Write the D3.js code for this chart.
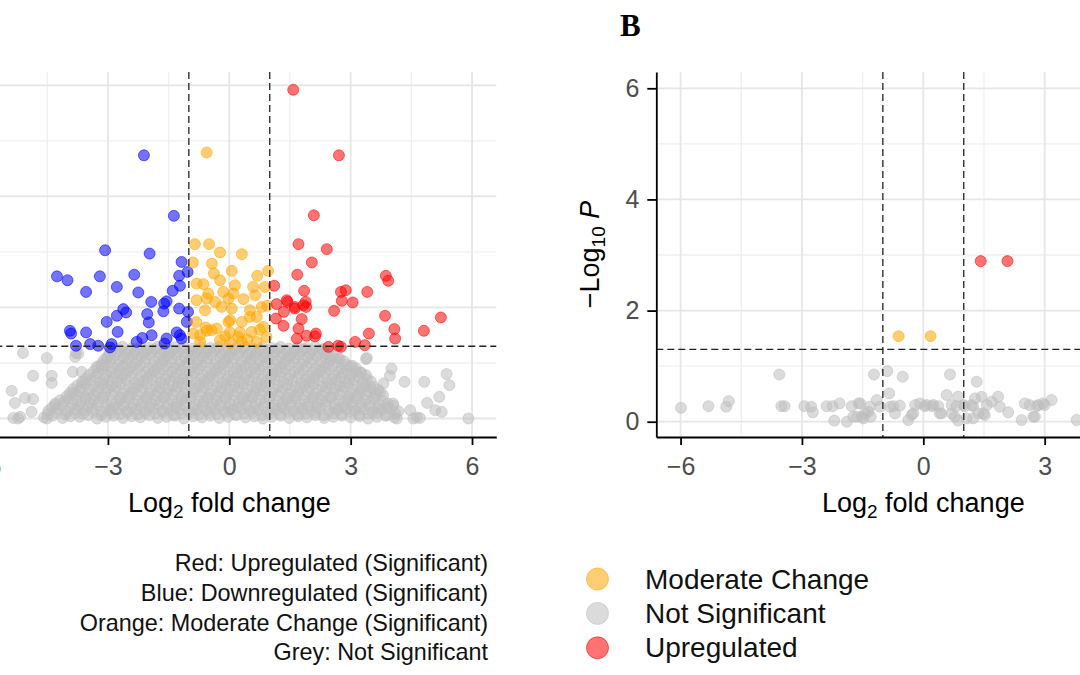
<!DOCTYPE html>
<html><head><meta charset="utf-8">
<script src="https://cdn.jsdelivr.net/npm/d3@7"></script>
<style>body{margin:0;background:#fff}svg{display:block}</style>
</head><body>
<svg id="c" width="1080" height="675"></svg>
<script>
// ---------- DATA (log2 fold change, -log10 P) ----------
const xTicks = [-6, -3, 0, 3, 6];
const xMinor = [-4.5, -1.5, 1.5, 4.5];
const yTicks = [0, 2, 4, 6];
const yMinor = [1, 3, 5];
const fcCut = [-1, 1];
const pCut = 1.301;

// Panel A (left)
const leftUp = [[1.58,5.92],[2.71,4.74],[2.09,3.66],[1.71,3.14],[2.41,3.05],[2.04,2.81],[1.68,2.59],[1.11,2.39],[1.85,2.30],[2.76,2.28],[2.88,2.31],[3.41,2.28],[3.87,2.57],[3.93,2.48],[1.17,2.06],[1.44,2.10],[1.62,2.01],[1.89,2.10],[1.90,2.01],[1.35,1.92],[2.78,2.12],[3.05,2.09],[2.59,1.94],[1.15,1.80],[1.79,1.79],[1.34,1.67],[1.71,1.62],[1.67,1.44],[1.91,1.49],[2.14,1.53],[3.85,1.85],[3.45,1.53],[4.08,1.61],[4.10,1.44],[4.81,1.58],[5.23,1.82],[3.11,1.38],[3.35,1.32],[2.45,1.29],[2.69,1.31],[2.76,1.29],[2.12,1.48],[1.42,2.13],[1.62,1.98],[1.83,2.04]];
const leftDown = [[-2.11,4.74],[-1.37,3.65],[-3.07,3.03],[-1.97,2.97],[-4.26,2.56],[-4.00,2.49],[-3.20,2.56],[-3.54,2.28],[-2.78,2.37],[-2.35,2.59],[-2.25,2.27],[-1.18,2.82],[-1.03,2.64],[-1.24,2.57],[-1.22,2.39],[-1.40,2.30],[-1.93,2.10],[-1.61,2.07],[-1.55,2.11],[-1.63,1.93],[-1.24,1.98],[-2.62,1.97],[-2.55,1.91],[-2.78,1.85],[-3.03,1.74],[-2.03,1.88],[-1.99,1.73],[-3.94,1.58],[-3.91,1.53],[-3.54,1.55],[-2.76,1.56],[-1.92,1.50],[-2.15,1.45],[-2.29,1.38],[-1.55,1.44],[-1.60,1.35],[-1.30,1.55],[-1.22,1.50],[-1.18,1.44],[-1.05,1.74],[-3.79,1.31],[-3.44,1.34],[-3.24,1.31],[-2.95,1.28],[-2.91,1.34],[-1.02,1.92]];
const leftModerate = [[-0.56,4.79],[-0.85,3.14],[-0.50,3.14],[-0.23,2.99],[0.31,2.96],[-0.90,2.81],[-0.43,2.79],[0.06,2.66],[0.69,2.57],[0.96,2.66],[-0.38,2.61],[-0.81,2.43],[-0.64,2.42],[-0.23,2.49],[0.14,2.40],[0.59,2.37],[0.88,2.37],[-0.52,2.25],[-0.15,2.28],[-0.81,2.13],[-0.35,2.10],[-0.02,2.16],[0.35,2.15],[0.64,2.22],[-0.60,1.95],[-0.19,2.01],[0.06,1.98],[0.51,1.95],[0.80,2.01],[0.94,2.03],[-0.82,1.74],[-0.44,1.59],[-0.31,1.62],[-0.02,1.74],[0.31,1.74],[0.68,1.83],[-0.89,1.53],[-0.56,1.58],[0.02,1.55],[0.26,1.55],[0.55,1.56],[0.84,1.65],[-0.72,1.38],[0.02,1.36],[0.31,1.38],[0.68,1.38],[-0.23,1.41],[0.92,1.47],[-0.56,2.16],[0.10,2.25],[0.51,1.83],[0.02,1.77],[-0.58,1.64],[0.22,1.47],[-0.72,1.50],[0.45,1.42],[-0.10,1.48],[0.75,1.60]];
const leftNS = [
[-4.58,.02],[-4.37,.05],[-4.12,.01],[-3.93,.04],[-3.70,.03],[-3.49,.06],[-3.27,.00],[-3.05,.03],[-2.86,.05],[-2.63,.01],[-2.41,.04],[-2.20,.02],[-1.98,.06],[-1.77,.01],[-1.55,.03],[-1.33,.05],[-1.12,.00],[-0.90,.04],[-0.68,.02],[-0.47,.05],[-0.25,.01],[-0.03,.03],[0.18,.06],[0.40,.02],[0.62,.04],[0.83,.00],[1.05,.03],[1.27,.05],[1.48,.01],[1.70,.04],[1.92,.02],[2.13,.06],[2.35,.01],[2.57,.03],[2.78,.05],[3.00,.02],[3.22,.04],[3.43,.00],[3.65,.03],[3.86,.05],[4.08,.02],
[-4.49,.08],[-4.27,.11],[-4.05,.07],[-3.80,.10],[-3.61,.09],[-3.36,.12],[-3.17,.06],[-2.93,.10],[-2.71,.08],[-2.52,.11],[-2.27,.07],[-2.07,.10],[-1.83,.09],[-1.63,.12],[-1.39,.06],[-1.19,.09],[-0.95,.11],[-0.75,.07],[-0.51,.10],[-0.31,.08],[-0.07,.12],[0.13,.07],[0.37,.09],[0.57,.11],[0.81,.06],[1.01,.10],[1.25,.08],[1.45,.12],[1.69,.07],[1.89,.09],[2.13,.11],[2.33,.06],[2.57,.10],[2.77,.08],[3.01,.12],[3.21,.07],[3.45,.09],[3.65,.11],[3.89,.06],[4.10,.09],
[-4.47,.14],[-4.25,.17],[-4.02,.13],[-3.81,.16],[-3.59,.15],[-3.38,.18],[-3.16,.12],[-2.95,.15],[-2.74,.17],[-2.52,.13],[-2.30,.16],[-2.09,.14],[-1.87,.18],[-1.66,.13],[-1.44,.15],[-1.22,.17],[-1.01,.12],[-0.79,.16],[-0.57,.14],[-0.36,.17],[-0.14,.13],[0.07,.15],[0.29,.18],[0.51,.14],[0.72,.16],[0.94,.12],[1.16,.15],[1.37,.17],[1.59,.13],[1.81,.16],[2.02,.14],[2.24,.18],[2.46,.13],[2.67,.15],[2.89,.17],[3.11,.14],[3.32,.16],[3.54,.12],[3.76,.15],[3.97,.17],[4.18,.13],
[-4.38,.20],[-4.15,.23],[-3.93,.19],[-3.71,.22],[-3.49,.21],[-3.27,.24],[-3.05,.18],[-2.84,.21],[-2.62,.23],[-2.40,.19],[-2.18,.22],[-1.97,.20],[-1.75,.24],[-1.53,.19],[-1.31,.21],[-1.10,.23],[-0.88,.18],[-0.66,.22],[-0.44,.20],[-0.23,.23],[-0.01,.19],[0.21,.21],[0.43,.24],[0.64,.20],[0.86,.22],[1.08,.18],[1.30,.21],[1.51,.23],[1.73,.19],[1.95,.22],[2.17,.20],[2.38,.24],[2.60,.19],[2.82,.21],[3.04,.23],[3.25,.20],[3.47,.22],[3.69,.18],[3.91,.21],[4.06,.23],
[-4.30,.27],[-4.09,.30],[-3.88,.26],[-3.66,.29],[-3.45,.28],[-3.23,.31],[-3.02,.25],[-2.80,.28],[-2.58,.30],[-2.37,.26],[-2.15,.29],[-1.94,.27],[-1.72,.31],[-1.50,.26],[-1.29,.28],[-1.07,.30],[-0.85,.25],[-0.64,.29],[-0.42,.27],[-0.20,.30],[0.01,.26],[0.23,.28],[0.45,.31],[0.66,.27],[0.88,.29],[1.10,.25],[1.31,.28],[1.53,.30],[1.75,.26],[1.96,.29],[2.18,.27],[2.40,.31],[2.61,.26],[2.83,.28],[3.05,.30],[3.26,.27],[3.48,.29],[3.70,.25],[3.92,.27],
[-4.18,.33],[-3.97,.36],[-3.76,.32],[-3.55,.35],[-3.34,.34],[-3.12,.37],[-2.91,.31],[-2.69,.34],[-2.47,.36],[-2.26,.32],[-2.04,.35],[-1.83,.33],[-1.61,.37],[-1.39,.32],[-1.18,.34],[-0.96,.36],[-0.74,.31],[-0.53,.35],[-0.31,.33],[-0.09,.36],[0.12,.32],[0.34,.34],[0.56,.37],[0.77,.33],[0.99,.35],[1.21,.31],[1.42,.34],[1.64,.36],[1.86,.32],[2.07,.35],[2.29,.33],[2.51,.37],[2.72,.32],[2.94,.34],[3.16,.36],[3.37,.33],[3.59,.35],[3.81,.31],
[-4.02,.40],[-3.78,.43],[-3.56,.39],[-3.34,.42],[-3.12,.41],[-2.91,.44],[-2.69,.38],[-2.47,.41],[-2.26,.43],[-2.04,.39],[-1.83,.42],[-1.61,.40],[-1.39,.44],[-1.18,.39],[-0.96,.41],[-0.74,.43],[-0.53,.38],[-0.31,.42],[-0.09,.40],[0.12,.43],[0.34,.39],[0.56,.41],[0.77,.44],[0.99,.40],[1.21,.42],[1.42,.38],[1.64,.41],[1.86,.43],[2.07,.39],[2.29,.42],[2.51,.40],[2.72,.44],[2.94,.39],[3.16,.41],[3.37,.43],[3.59,.40],[3.80,.42],
[-3.94,.46],[-3.72,.49],[-3.50,.45],[-3.28,.48],[-3.06,.47],[-2.85,.50],[-2.63,.44],[-2.41,.47],[-2.20,.49],[-1.98,.45],[-1.77,.48],[-1.55,.46],[-1.33,.50],[-1.12,.45],[-0.90,.47],[-0.68,.49],[-0.47,.44],[-0.25,.48],[-0.03,.46],[0.18,.49],[0.40,.45],[0.62,.47],[0.83,.50],[1.05,.46],[1.27,.48],[1.48,.44],[1.70,.47],[1.92,.49],[2.13,.45],[2.35,.48],[2.57,.46],[2.78,.50],[3.00,.45],[3.22,.47],[3.43,.49],[3.64,.45],
[-3.86,.53],[-3.66,.56],[-3.45,.52],[-3.23,.55],[-3.01,.54],[-2.80,.57],[-2.58,.51],[-2.36,.54],[-2.15,.56],[-1.93,.52],[-1.72,.55],[-1.50,.53],[-1.28,.57],[-1.07,.52],[-0.85,.54],[-0.63,.56],[-0.42,.51],[-0.20,.55],[0.02,.53],[0.23,.56],[0.45,.52],[0.67,.54],[0.88,.57],[1.10,.53],[1.32,.55],[1.53,.51],[1.75,.54],[1.97,.56],[2.18,.52],[2.40,.55],[2.62,.53],[2.83,.57],[3.05,.52],[3.27,.54],[3.48,.56],[3.68,.52],
[-3.76,.59],[-3.55,.62],[-3.34,.58],[-3.12,.61],[-2.90,.60],[-2.69,.63],[-2.47,.57],[-2.25,.60],[-2.04,.62],[-1.82,.58],[-1.61,.61],[-1.39,.59],[-1.17,.63],[-0.96,.58],[-0.74,.60],[-0.52,.62],[-0.31,.57],[-0.09,.61],[0.13,.59],[0.34,.62],[0.56,.58],[0.78,.60],[0.99,.63],[1.21,.59],[1.43,.61],[1.64,.57],[1.86,.60],[2.08,.62],[2.29,.58],[2.51,.61],[2.73,.59],[2.94,.63],[3.16,.58],[3.38,.60],[3.56,.57],
[-3.64,.66],[-3.42,.69],[-3.20,.65],[-2.99,.68],[-2.77,.67],[-2.55,.70],[-2.34,.64],[-2.12,.67],[-1.90,.69],[-1.69,.65],[-1.47,.68],[-1.26,.66],[-1.04,.70],[-0.82,.65],[-0.61,.67],[-0.39,.69],[-0.17,.64],[0.04,.68],[0.26,.66],[0.48,.69],[0.69,.65],[0.91,.67],[1.13,.70],[1.34,.66],[1.56,.68],[1.78,.64],[1.99,.67],[2.21,.69],[2.43,.65],[2.64,.68],[2.86,.66],[3.08,.70],[3.29,.65],[3.50,.67],
[-3.54,.72],[-3.31,.75],[-3.10,.71],[-2.88,.74],[-2.66,.73],[-2.45,.76],[-2.23,.70],[-2.01,.73],[-1.80,.75],[-1.58,.71],[-1.36,.74],[-1.15,.72],[-0.93,.76],[-0.71,.71],[-0.50,.73],[-0.28,.75],[-0.06,.70],[0.15,.74],[0.37,.72],[0.59,.75],[0.80,.71],[1.02,.73],[1.24,.76],[1.45,.72],[1.67,.74],[1.89,.70],[2.10,.73],[2.32,.75],[2.54,.71],[2.75,.74],[2.97,.72],[3.19,.76],[3.40,.71],
[-3.46,.79],[-3.25,.82],[-3.04,.78],[-2.82,.81],[-2.61,.80],[-2.39,.83],[-2.18,.77],[-1.96,.80],[-1.74,.82],[-1.53,.78],[-1.31,.81],[-1.09,.79],[-0.88,.83],[-0.66,.78],[-0.44,.80],[-0.23,.82],[-0.01,.77],[0.20,.81],[0.42,.79],[0.64,.82],[0.85,.78],[1.07,.80],[1.29,.83],[1.50,.79],[1.72,.81],[1.94,.77],[2.15,.80],[2.37,.82],[2.59,.78],[2.80,.81],[3.02,.79],[3.24,.83],[3.38,.78],
[-3.35,.85],[-3.14,.88],[-2.93,.84],[-2.71,.87],[-2.50,.86],[-2.28,.89],[-2.07,.83],[-1.85,.86],[-1.63,.88],[-1.42,.84],[-1.20,.87],[-0.98,.85],[-0.77,.89],[-0.55,.84],[-0.33,.86],[-0.12,.88],[0.10,.83],[0.31,.87],[0.53,.85],[0.75,.88],[0.96,.84],[1.18,.86],[1.40,.89],[1.61,.85],[1.83,.87],[2.05,.83],[2.26,.86],[2.48,.88],[2.70,.84],[2.91,.87],[3.13,.85],[3.27,.82],
[-3.24,.92],[-3.06,.95],[-2.85,.91],[-2.63,.94],[-2.42,.93],[-2.20,.96],[-1.99,.90],[-1.77,.93],[-1.55,.95],[-1.34,.91],[-1.12,.94],[-0.90,.92],[-0.69,.96],[-0.47,.91],[-0.25,.93],[-0.04,.95],[0.18,.90],[0.40,.94],[0.61,.92],[0.83,.95],[1.05,.91],[1.26,.93],[1.48,.96],[1.70,.92],[1.91,.94],[2.13,.90],[2.35,.93],[2.56,.95],[2.78,.91],[2.99,.94],[3.14,.90],
[-3.16,.98],[-2.96,1.01],[-2.74,.97],[-2.53,1.00],[-2.31,.99],[-2.09,1.02],[-1.88,.96],[-1.66,.99],[-1.44,1.01],[-1.23,.97],[-1.01,1.00],[-0.79,.98],[-0.58,1.02],[-0.36,.97],[-0.14,.99],[0.07,1.01],[0.29,.96],[0.51,1.00],[0.72,.98],[0.94,1.01],[1.16,.97],[1.37,.99],[1.59,1.02],[1.81,.98],[2.02,1.00],[2.24,.96],[2.46,.99],[2.67,1.01],[2.89,.97],[3.04,.95],
[-3.10,1.05],[-2.92,1.08],[-2.71,1.04],[-2.50,1.07],[-2.28,1.06],[-2.07,1.09],[-1.85,1.03],[-1.63,1.06],[-1.42,1.08],[-1.20,1.04],[-0.98,1.07],[-0.77,1.05],[-0.55,1.09],[-0.33,1.04],[-0.12,1.06],[0.10,1.08],[0.32,1.03],[0.53,1.07],[0.75,1.05],[0.97,1.08],[1.18,1.04],[1.40,1.06],[1.62,1.09],[1.83,1.05],[2.05,1.07],[2.27,1.03],[2.48,1.06],[2.70,1.08],[2.84,1.03],
[-3.02,1.11],[-2.82,1.14],[-2.61,1.10],[-2.39,1.13],[-2.17,1.12],[-1.96,1.15],[-1.74,1.09],[-1.52,1.12],[-1.31,1.14],[-1.09,1.10],[-0.87,1.13],[-0.66,1.11],[-0.44,1.15],[-0.22,1.10],[-0.01,1.12],[0.21,1.14],[0.43,1.09],[0.64,1.13],[0.86,1.11],[1.08,1.14],[1.29,1.10],[1.51,1.12],[1.73,1.15],[1.94,1.11],[2.16,1.13],[2.38,1.09],[2.59,1.12],[2.72,1.08],
[-2.96,1.17],[-2.77,1.20],[-2.56,1.16],[-2.34,1.19],[-2.13,1.18],[-1.91,1.21],[-1.69,1.15],[-1.48,1.18],[-1.26,1.20],[-1.04,1.16],[-0.83,1.19],[-0.61,1.17],[-0.39,1.21],[-0.18,1.16],[0.04,1.18],[0.26,1.20],[0.47,1.15],[0.69,1.19],[0.91,1.17],[1.12,1.20],[1.34,1.16],[1.56,1.18],[1.77,1.21],[1.99,1.17],[2.21,1.19],[2.42,1.15],[2.55,1.12],
[-2.90,1.22],[-2.70,1.24],[-2.49,1.21],[-2.27,1.23],[-2.06,1.22],[-1.84,1.25],[-1.62,1.20],[-1.41,1.23],[-1.19,1.25],[-0.97,1.21],[-0.76,1.24],[-0.54,1.22],[-0.32,1.25],[-0.11,1.21],[0.11,1.23],[0.33,1.25],[0.54,1.20],[0.76,1.24],[0.98,1.22],[1.19,1.25],[1.41,1.21],[1.63,1.23],[1.84,1.25],[2.06,1.22],[2.27,1.24],[2.44,1.20],
[-2.85,1.27],[-2.64,1.29],[-2.42,1.26],[-2.21,1.28],[-1.99,1.27],[-1.77,1.29],[-1.56,1.25],[-1.34,1.28],[-1.12,1.29],[-0.91,1.26],[-0.69,1.28],[-0.47,1.27],[-0.26,1.29],[-0.04,1.26],[0.17,1.27],[0.39,1.29],[0.61,1.25],[0.82,1.28],[1.04,1.27],[1.26,1.29],[1.47,1.26],[1.69,1.28],[1.91,1.27],[2.12,1.29],[2.32,1.25],
[-5.10,1.18],[-4.51,1.09],[-4.85,0.77],[-4.39,0.77],[-5.38,0.50],[-5.05,0.37],[-5.30,0.28],[-4.85,0.35],[-4.39,0.64],[-3.87,0.84],[-3.65,0.84],[-3.61,0.66],[-3.86,0.46],[-5.17,0.03],[-4.89,0.12],[-4.31,0.24],[-3.79,1.18],[-3.28,0.93],[-5.22,0.00],[-5.34,0.01],[-4.51,0.00],[-3.81,1.11],[-3.73,1.17],[-3.15,0.95],[-3.03,1.08],
[3.38,1.07],[3.40,1.09],[4.01,0.90],[3.97,0.77],[3.81,0.63],[4.33,0.66],[4.82,0.66],[5.37,0.80],[5.44,0.60],[5.19,0.39],[4.89,0.28],[5.09,0.15],[5.25,0.12],[4.05,0.27],[4.47,0.15],[4.63,0.02],[4.14,0.00],[5.91,0.00],[3.73,0.48],[4.55,0.00],[4.71,0.01]
];

// Panel B (right)
const rightUp = [[1.42,2.89],[2.08,2.89]];
const rightModerate = [[-0.61,1.54],[0.18,1.54]];
const rightNS = [[-5.99,0.25],[-5.31,0.28],[-4.87,0.27],[-4.81,0.37],[-3.56,0.85],[-3.51,0.28],[-3.43,0.28],[-2.94,0.28],[-2.77,0.27],[-2.73,0.17],[-2.39,0.28],[-2.24,0.28],[-2.07,0.33],[-2.20,0.02],[-1.89,0.00],[-1.77,0.28],[-1.64,0.09],[-1.56,0.33],[-1.48,0.06],[-1.32,0.27],[-1.36,0.18],[-1.30,0.09],[-1.15,0.39],[-1.07,0.27],[-1.22,0.85],[-0.89,0.91],[-0.84,0.51],[-0.51,0.81],[-0.82,0.27],[-0.70,0.15],[-0.58,0.29],[-0.37,0.03],[-0.29,0.12],[-0.20,0.30],[-0.08,0.33],[0.08,0.30],[0.25,0.30],[0.41,0.15],[0.58,0.48],[0.66,0.85],[0.70,0.30],[0.78,0.09],[0.86,0.45],[0.99,0.30],[1.07,0.06],[1.19,0.30],[1.32,0.72],[1.28,0.42],[1.44,0.45],[1.36,0.15],[1.57,0.30],[1.69,0.36],[1.52,0.12],[1.85,0.45],[1.89,0.27],[2.10,0.17],[2.43,0.03],[2.63,0.30],[2.76,0.09],[2.84,0.30],[3.00,0.30],[3.17,0.39],[3.79,0.03],[-0.25,0.15],[-0.74,0.28],[-1.60,0.33],[-1.52,0.09],[-1.44,0.15],[-1.73,0.09],[0.04,0.28],[0.21,0.28],[0.37,0.28],[0.45,0.15],[0.70,0.15],[0.82,0.28],[0.86,0.02],[1.03,0.28],[1.23,0.28],[1.23,0.06],[1.48,0.15],[2.51,0.33],[2.72,0.09],[2.80,0.28],[2.96,0.33]];

const legendLabels = ["Moderate Change", "Not Significant", "Upregulated"];
const noteLines = ["Red: Upregulated (Significant)", "Blue: Downregulated (Significant)", "Orange: Moderate Change (Significant)", "Grey: Not Significant"];

// ---------- DRAWING ----------
const W = 1080, H = 675;
const SANS = "'Liberation Sans', Arial, Helvetica, sans-serif";
const COL = {up: "#FF0000", down: "#0000FF", mod: "#FFA500", ns: "#BEBEBE"};
const ALPHA = 0.55;
const R = 5.5;
const svg = d3.select("#c");
svg.append("rect").attr("width", W).attr("height", H).attr("fill", "#fff");

const TOP = 72, BOT = 437;

function drawPanel(o) {
  const x = d3.scaleLinear().domain([-6.6, 6.6]).range([o.x0, o.x1]);
  const y = d3.scaleLinear().domain(o.yDomain).range([BOT, TOP]);
  const g = svg.append("g");
  // grid
  g.selectAll(null).data(xMinor).join("line")
    .attr("x1", d => x(d)).attr("x2", d => x(d)).attr("y1", TOP).attr("y2", BOT)
    .attr("stroke", "#efefef").attr("stroke-width", 1.3);
  g.selectAll(null).data(yMinor).join("line")
    .attr("x1", o.x0).attr("x2", o.x1).attr("y1", d => y(d)).attr("y2", d => y(d))
    .attr("stroke", "#efefef").attr("stroke-width", 1.3);
  g.selectAll(null).data(xTicks).join("line")
    .attr("x1", d => x(d)).attr("x2", d => x(d)).attr("y1", TOP).attr("y2", BOT)
    .attr("stroke", "#e6e6e6").attr("stroke-width", 1.8);
  g.selectAll(null).data(yTicks).join("line")
    .attr("x1", o.x0).attr("x2", o.x1).attr("y1", d => y(d)).attr("y2", d => y(d))
    .attr("stroke", "#e6e6e6").attr("stroke-width", 1.8);

  // points
  const layers = [[o.ns, COL.ns], [o.down, COL.down], [o.mod, COL.mod], [o.up, COL.up]];
  layers.forEach(([data, c]) => {
    g.append("g").selectAll("circle").data(data).join("circle")
      .attr("cx", d => x(d[0])).attr("cy", d => y(d[1])).attr("r", R)
      .attr("fill", c).attr("fill-opacity", ALPHA)
      .attr("stroke", c).attr("stroke-opacity", ALPHA).attr("stroke-width", 1);
  });

  // threshold lines
  g.selectAll(null).data(fcCut).join("line")
    .attr("x1", d => x(d)).attr("x2", d => x(d)).attr("y1", TOP).attr("y2", BOT)
    .attr("stroke", "#222").attr("stroke-width", 1.3).attr("stroke-dasharray", "7,4");
  g.append("line").attr("x1", o.x0).attr("x2", o.x1).attr("y1", y(pCut)).attr("y2", y(pCut))
    .attr("stroke", "#222").attr("stroke-width", 1.3).attr("stroke-dasharray", "7,4");

  // axes (only ticks that can land on the 1080-px canvas)
  const shownX = xTicks.filter(d => x(d) > -20 && x(d) < W);
  const axes = [];
  axes.push(g.append("g").attr("transform", `translate(0,${BOT})`)
    .call(d3.axisBottom(x).tickValues(shownX).tickFormat(d3.format("d")).tickSize(8).tickSizeOuter(0).tickPadding(12)));
  if (o.showY) {
    axes.push(g.append("g").attr("transform", `translate(${o.x0},0)`)
      .call(d3.axisLeft(y).tickValues(yTicks).tickFormat(d3.format("d")).tickSize(9).tickSizeOuter(0).tickPadding(8)));
    const yt = g.append("text").attr("transform", `translate(${o.x0 - 57},${(TOP + BOT) / 2}) rotate(-90)`)
      .attr("text-anchor", "middle").attr("font-family", SANS).attr("font-size", 27).attr("fill", "#000");
    yt.append("tspan").text("\u2212Log");
    yt.append("tspan").attr("dy", 6).attr("font-size", 19).text("10");
    yt.append("tspan").attr("dy", -6).text(" ");
    yt.append("tspan").attr("font-style", "italic").text("P");
  }
  axes.forEach(a => {
    a.select(".domain").attr("stroke", "#000").attr("stroke-width", 1.8);
    a.selectAll(".tick line").attr("stroke", "#000").attr("stroke-width", 1.8);
    a.selectAll(".tick text").attr("font-family", SANS).attr("font-size", 25).attr("fill", "#4d4d4d");
  });

  // x title
  const xt = g.append("text").attr("x", (o.x0 + o.x1) / 2).attr("y", 512)
    .attr("text-anchor", "middle").attr("font-family", SANS).attr("font-size", 27).attr("fill", "#000");
  xt.append("tspan").text("Log");
  xt.append("tspan").attr("dy", 6).attr("font-size", 19).text("2");
  xt.append("tspan").attr("dy", -6).text(" fold change");
}

drawPanel({x0: -37.7, x1: 496.3, yDomain: [-0.333, 6.24], ns: leftNS, down: leftDown, mod: leftModerate, up: leftUp, showY: false});
drawPanel({x0: 656.3, x1: 1190.3, yDomain: [-0.275, 6.293], ns: rightNS, down: [], mod: rightModerate, up: rightUp, showY: true});

// panel tag
svg.append("text").attr("x", 620).attr("y", 36).attr("font-family", "'Liberation Serif', 'Times New Roman', serif")
  .attr("font-weight", "bold").attr("font-size", 31).attr("fill", "#000").text("B");

// note under panel A
svg.append("g").selectAll("text").data(noteLines).join("text")
  .attr("x", 488).attr("y", (d, i) => 571 + i * 29.8)
  .attr("text-anchor", "end").attr("font-family", SANS).attr("font-size", 23.4).attr("fill", "#111")
  .text(d => d);

// legend for panel B
const legCols = [COL.mod, COL.ns, COL.up];
const lg = svg.append("g");
lg.selectAll("circle").data(legendLabels).join("circle")
  .attr("cx", 597.5).attr("cy", (d, i) => 579 + i * 34.4).attr("r", 11)
  .attr("fill", (d, i) => legCols[i]).attr("fill-opacity", ALPHA)
  .attr("stroke", (d, i) => legCols[i]).attr("stroke-opacity", ALPHA).attr("stroke-width", 1);
lg.selectAll("text").data(legendLabels).join("text")
  .attr("x", 645).attr("y", (d, i) => 588.5 + i * 34.4)
  .attr("font-family", SANS).attr("font-size", 28).attr("fill", "#111")
  .text(d => d);
</script>
</body></html>
